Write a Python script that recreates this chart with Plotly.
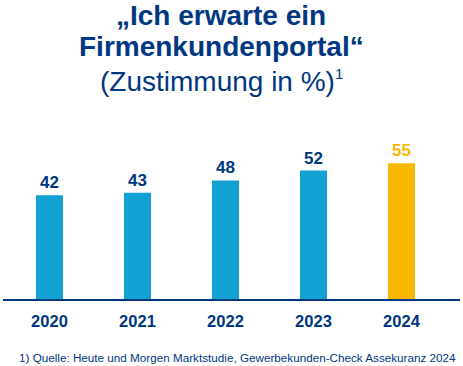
import plotly.graph_objects as go

years = ["2020", "2021", "2022", "2023", "2024"]
values = [42, 43, 48, 52, 55]
bar_colors = ["#13A0D3", "#13A0D3", "#13A0D3", "#13A0D3", "#FBB800"]
label_colors = ["#003781", "#003781", "#003781", "#003781", "#FBB800"]

title_lines = ["<b>„Ich erwarte ein</b>", "<b>Firmenkundenportal“</b>",
               "(Zustimmung in %)<sup><span style='font-size:15px'>1</span></sup>"]
footnote = "1) Quelle: Heute und Morgen Marktstudie, Gewerbekunden-Check Assekuranz 2024"

DARK = "#003781"
FONT = "Liberation Sans, Arial, sans-serif"

fig = go.Figure()
fig.add_trace(go.Bar(
    x=list(range(len(years))), y=values,
    marker=dict(color=bar_colors, line=dict(width=0)),
    text=[str(v) for v in values],
    textposition="outside",
    textfont=dict(family=FONT, size=17, color=label_colors, weight="bold"),
    cliponaxis=False,
    hoverinfo="skip",
))

fig.update_layout(
    width=463, height=366,
    margin=dict(l=3, r=3, t=120, b=67),
    paper_bgcolor="white", plot_bgcolor="white",
    showlegend=False,
    bargap=0.693,
    font=dict(family=FONT, color=DARK),
    xaxis=dict(
        range=[-0.528, 4.665],
        tickmode="array", tickvals=list(range(len(years))), ticktext=[f"<b>{y}</b>" for y in years],
        tickfont=dict(family=FONT, size=16.5, color=DARK),
        showline=True, linecolor=DARK, linewidth=1.5,
        ticks="outside", ticklen=6, tickcolor="rgba(0,0,0,0)",
        showgrid=False, zeroline=False, fixedrange=True,
    ),
    yaxis=dict(range=[0, 72.5], visible=False, showgrid=False, zeroline=False, fixedrange=True),
)

title_y = [16, 47, 81]
for t, yp in zip(title_lines, title_y):
    fig.add_annotation(
        text=t, xref="paper", yref="paper",
        x=(221 - 3) / 457, xanchor="center",
        y=(299 - yp) / 179, yanchor="middle",
        showarrow=False,
        font=dict(family=FONT, size=28, color=DARK),
    )

fig.add_annotation(
    text=footnote, xref="paper", yref="paper",
    x=(17 - 3) / 457, xanchor="left",
    y=(299 - 357) / 179, yanchor="middle",
    showarrow=False,
    font=dict(family=FONT, size=11.7, color=DARK),
)

fig.write_html("out.html", config={"displayModeBar": False},
               post_script="document.body.style.margin='0';document.body.style.overflow='hidden';")
